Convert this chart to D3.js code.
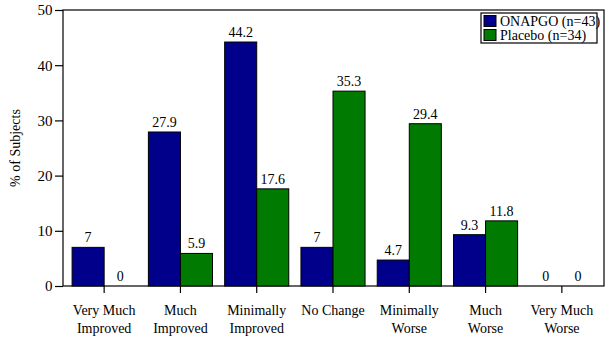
<!DOCTYPE html>
<html>
<head>
<meta charset="utf-8">
<script src="https://cdn.jsdelivr.net/npm/d3@7"></script>
<style>
  html, body { margin: 0; padding: 0; background: #fff; }
  svg { display: block; }
  svg text { font-family: Times, serif; }
</style>
</head>
<body>
<svg id="chart" width="612" height="340"></svg>
<script>
// Response categories (two-line labels)
const categories = [
  ["Very Much", "Improved"],
  ["Much", "Improved"],
  ["Minimally", "Improved"],
  ["No Change"],
  ["Minimally", "Worse"],
  ["Much", "Worse"],
  ["Very Much", "Worse"]
];
const seriesNames = ["ONAPGO (n=43)", "Placebo (n=34)"];
const onapgo  = [7, 27.9, 44.2, 7, 4.7, 9.3, 0];
const placebo = [0, 5.9, 17.6, 35.3, 29.4, 11.8, 0];
const yTicks = [0, 10, 20, 30, 40, 50];
const colors = ["#00008b", "#007a00"];

const svg = d3.select("#chart");
const box = { left: 63, right: 604, top: 10, bottom: 286 };

const x = d3.scaleBand()
  .domain(d3.range(categories.length))
  .range([66, 600])
  .paddingInner(0)
  .paddingOuter(0);
const xInner = d3.scaleBand()
  .domain([0, 1])
  .range([0, x.bandwidth()])
  .paddingOuter(0.19)
  .paddingInner(0);
const y = d3.scaleLinear().domain([0, 50]).range([box.bottom, box.top]);

// Plot frame
svg.append("rect")
  .attr("x", box.left).attr("y", box.top)
  .attr("width", box.right - box.left).attr("height", box.bottom - box.top)
  .attr("fill", "none").attr("stroke", "#000").attr("stroke-width", 1.2);

// Bars with value labels
const series = [onapgo, placebo];
series.forEach((vals, si) => {
  const g = svg.append("g");
  g.selectAll("rect")
    .data(vals)
    .join("rect")
    .attr("x", (d, i) => x(i) + xInner(si))
    .attr("y", d => y(d))
    .attr("width", xInner.bandwidth())
    .attr("height", d => y(0) - y(d))
    .attr("fill", colors[si])
    .attr("stroke", "#000")
    .attr("stroke-width", d => d > 0 ? 1 : 0);
  g.selectAll("text")
    .data(vals)
    .join("text")
    .attr("x", (d, i) => x(i) + xInner(si) + xInner.bandwidth() / 2)
    .attr("y", d => y(d) - 5)
    .attr("text-anchor", "middle")
    .attr("font-size", 14)
    .attr("fill", "#000")
    .text(d => d);
});

// Y axis
const yAxis = d3.axisLeft(y).tickValues(yTicks).tickSize(8).tickPadding(2.5);
const gy = svg.append("g").attr("transform", `translate(${box.left},0)`).call(yAxis);
gy.select(".domain").remove();
gy.attr("font-family", null);
gy.selectAll("text").attr("font-size", 15).attr("fill", "#000");
gy.selectAll("line").attr("stroke", "#000").attr("stroke-width", 1.2);

// X axis ticks and category labels
const xAxis = d3.axisBottom(x).tickSize(7).tickFormat("");
const gx = svg.append("g").attr("transform", `translate(0,${box.bottom})`).call(xAxis);
gx.select(".domain").remove();
gx.attr("font-family", null);
gx.selectAll("line").attr("stroke", "#000").attr("stroke-width", 1.2);
gx.selectAll(".tick").each(function(d) {
  const t = d3.select(this).append("text")
    .attr("text-anchor", "middle")
    .attr("font-size", 14)
    .attr("fill", "#000");
  categories[d].forEach((line, k) => {
    t.append("tspan").attr("x", 0).attr("y", 29 + k * 18).text(line);
  });
});

// Y axis title
svg.append("text")
  .attr("transform", `translate(20,${(box.top + box.bottom) / 2}) rotate(-90)`)
  .attr("text-anchor", "middle")
  .attr("font-size", 14)
  .attr("fill", "#000")
  .text("% of Subjects");

// Legend
const lg = svg.append("g").attr("transform", "translate(481,13)");
lg.append("rect").attr("width", 116).attr("height", 30)
  .attr("fill", "#fff").attr("stroke", "#000").attr("stroke-width", 1.2);
seriesNames.forEach((name, i) => {
  lg.append("rect")
    .attr("x", 3).attr("y", 2.5 + i * 14)
    .attr("width", 12).attr("height", 11)
    .attr("fill", colors[i]).attr("stroke", "#000");
  lg.append("text")
    .attr("x", 19).attr("y", 12.5 + i * 14)
    .attr("font-size", 14)
    .attr("fill", "#000")
    .text(name);
});
</script>
</body>
</html>
